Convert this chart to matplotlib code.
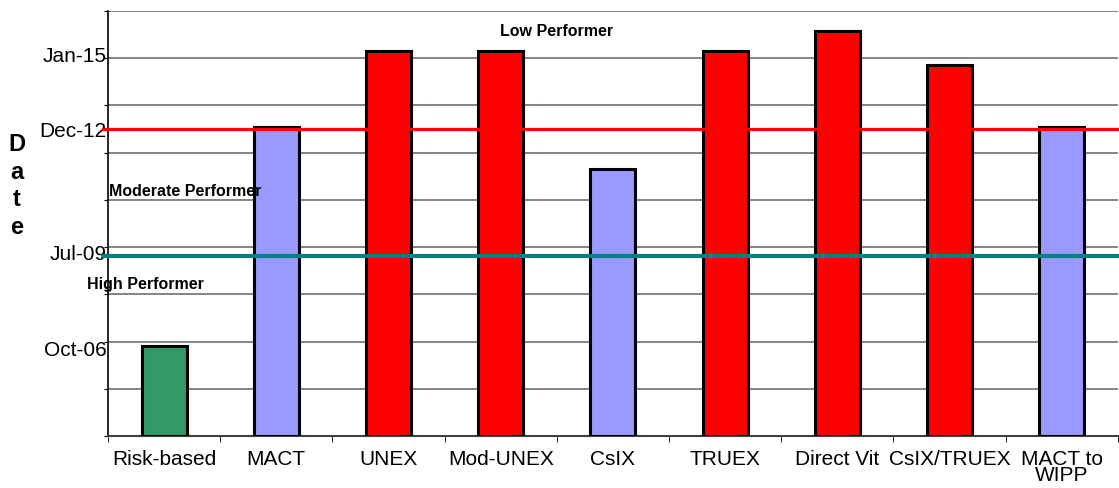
import matplotlib.pyplot as plt
import numpy as np

plt.rcParams['font.family'] = ['Liberation Sans', 'DejaVu Sans']

# data (dates as decimal years)
categories = ['Risk-based', 'MACT', 'UNEX', 'Mod-UNEX', 'CsIX', 'TRUEX',
              'Direct Vit', 'CsIX/TRUEX', 'MACT to\nWIPP']
dates = [2006.79, 2012.97, 2015.12, 2015.12, 2011.79, 2015.12,
         2015.68, 2014.72, 2012.97]
colors = ['#339966', '#9999FF', '#FF0000', '#FF0000', '#9999FF', '#FF0000',
          '#FF0000', '#FF0000', '#9999FF']
low_line = 2012.92
high_line = 2009.33
tick_vals = [2006.75, 2009.45, 2012.92, 2015.04]
tick_labels = ['Oct-06', 'Jul-09', 'Dec-12', 'Jan-15']

ymin, ymax = 2004.25, 2016.25

fig = plt.figure(figsize=(11.19, 4.89), dpi=100)
ax = fig.add_axes([0.0965, 0.1063, 0.9025, 0.8692])

x = np.arange(len(categories))
vals = np.array(dates)
ax.bar(x, vals - ymin, bottom=ymin, width=0.4, color=colors,
       edgecolor='black', linewidth=2.2, zorder=3)

ax.set_xlim(-0.5, len(categories) - 0.5)
ax.set_ylim(ymin, ymax)

# gridlines
grid = np.arange(ymin, ymax + 0.01, 4 / 3)
ax.set_yticks(grid)
ax.set_yticklabels([''] * len(grid))
ax.yaxis.grid(True, color='#707070', linewidth=1.2, zorder=0)
ax.tick_params(axis='y', which='major', length=3, color='black')
ax.set_yticks(tick_vals, minor=True)
ax.set_yticklabels(tick_labels, minor=True, fontsize=15)
ax.tick_params(axis='y', which='minor', length=0, pad=1)

ax.set_xticks(x)
ax.set_xticklabels(categories, fontsize=15, linespacing=0.85, va='top')
ax.tick_params(axis='x', which='major', length=0, pad=9)
ax.set_xticks(np.arange(len(categories) + 1) - 0.5, minor=True)
ax.tick_params(axis='x', which='minor', length=4, color='black')

ax.spines['right'].set_visible(False)
ax.spines['top'].set_visible(False)
ax.spines['left'].set_linewidth(1.2)
ax.spines['bottom'].set_color('#404040')
ax.spines['bottom'].set_linewidth(1.5)

# performance thresholds
ax.axhline(low_line, xmin=-0.005, xmax=1, color='#FF0000', linewidth=2.3,
           zorder=4, clip_on=False)
ax.axhline(high_line, xmin=-0.005, xmax=1, color='#008080', linewidth=3,
           zorder=4, clip_on=False)

ax.text(557 / 1119, 1 - 31 / 489, 'Low Performer', transform=fig.transFigure,
        ha='center', va='center', fontsize=11.5, fontweight='bold', zorder=5)
ax.text(109 / 1119, 1 - 192 / 489, 'Moderate Performer', transform=fig.transFigure,
        ha='left', va='center', fontsize=11.5, fontweight='bold', zorder=5)
ax.text(87 / 1119, 1 - 284 / 489, 'High Performer', transform=fig.transFigure,
        ha='left', va='center', fontsize=11.5, fontweight='bold', zorder=5)

fig.text(17 / 1119, 1 - 186 / 489, 'D\na\nt\ne', ha='center', va='center',
         fontsize=17, fontweight='bold', linespacing=1.27)

fig.savefig('out.png', dpi=100)
